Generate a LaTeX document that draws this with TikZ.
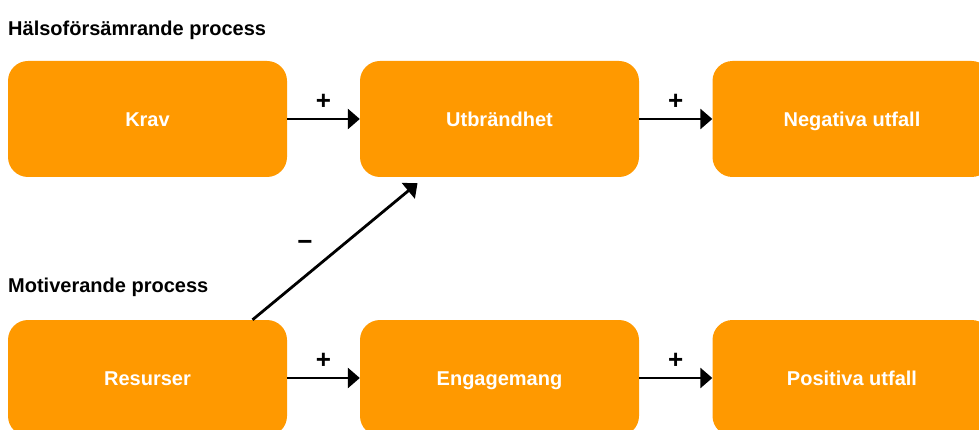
\documentclass[tikz,border=0pt]{standalone}
\usepackage{fontspec}
\setmainfont{Liberation Sans}
\usetikzlibrary{arrows.meta}
\definecolor{jdorange}{HTML}{FF9900}

\begin{document}
\begin{tikzpicture}[x=1pt,y=-1pt,
  box/.style={fill=jdorange, rounded corners=20pt, minimum width=279pt, minimum height=116pt,
    text=white, font=\fontsize{20}{22}\selectfont\bfseries, inner sep=0pt,
    text height=14.3pt, text depth=0pt},
  rubrik/.style={anchor=west, font=\fontsize{20}{22}\selectfont\bfseries, inner sep=0pt,
    text height=14.3pt, text depth=0pt},
  pil/.style={line width=2.8pt, -{Triangle[length=12pt,width=20pt]}},
  tecken/.style={font=\fontsize{26}{26}\selectfont\bfseries}]
\useasboundingbox (0,0) rectangle (979,430);
\clip (0,0) rectangle (979,430);
% rubriker
\node[rubrik] (rub1) at (8,28) {Hälsoförsämrande process};
\node[rubrik] (rub2) at (8,285) {Motiverande process};
% boxar, rad 1 och rad 2
\node[box] (krav) at (147.5,119) {Krav};
\node[box] (utb) at (499.5,119) {Utbrändhet};
\node[box] (neg) at (852,119) {Negativa utfall};
\node[box] (res) at (147.5,378) {Resurser};
\node[box] (eng) at (499.5,378) {Engagemang};
\node[box] (pos) at (852,378) {Positiva utfall};
% pilar med tecken
\foreach \a/\b in {krav/utb,utb/neg,res/eng,eng/pos}
  \draw[pil] (\a.east) -- node[tecken, above=5pt] {+} (\b.west);
\draw[pil] ([xshift=105pt]res.north) -- ([xshift=-82pt,yshift=-6pt]utb.south);
\node[tecken] (minus) at (305,245) {−};
\end{tikzpicture}
\end{document}
